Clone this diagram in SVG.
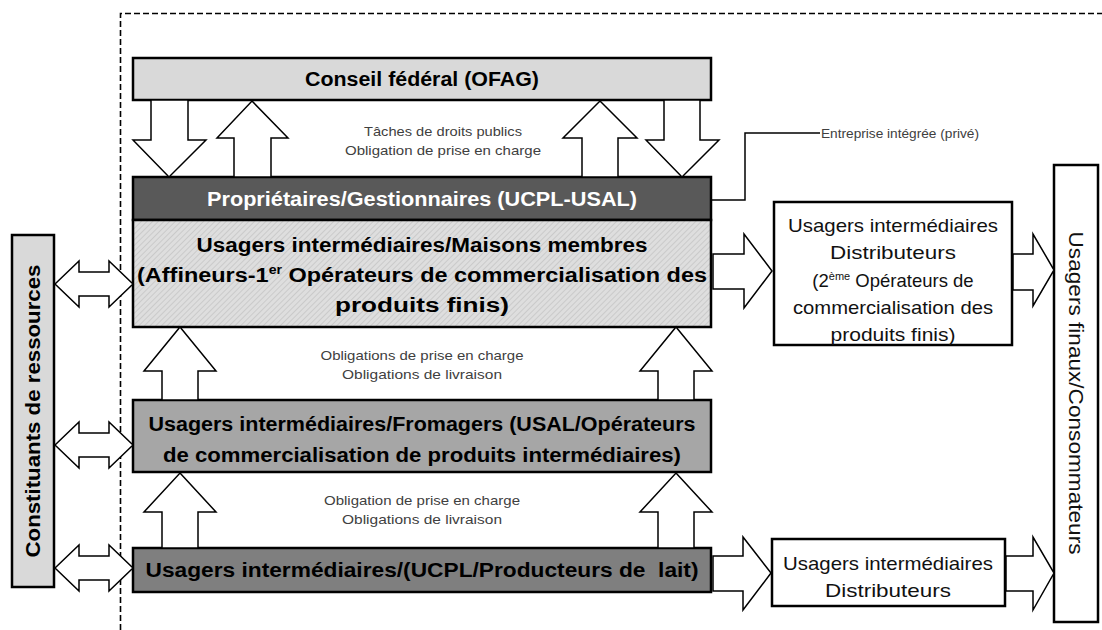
<svg xmlns="http://www.w3.org/2000/svg" width="1102" height="630" viewBox="0 0 1102 630">
<defs>
<pattern id="hatch" width="4" height="4" patternUnits="userSpaceOnUse" patternTransform="rotate(45)">
<rect width="4" height="4" fill="#dedede"/>
<line x1="0" y1="0" x2="0" y2="4" stroke="#bdbdbd" stroke-width="1.2"/>
</pattern>
<style>
.box{stroke:#000;stroke-width:2.5}
.arr{fill:#fff;stroke:#000;stroke-width:1.5;stroke-linejoin:miter}
.t{font-family:"Liberation Sans",Arial,sans-serif;text-anchor:middle}
.b{font-weight:bold;font-size:20px}
.s{font-size:13.5px;fill:#404040}
.m{font-size:18.5px;fill:#111}
</style>
</defs>
<rect width="1102" height="630" fill="#fff"/>
<path d="M120.5,630 V13.5 H1102" fill="none" stroke="#000" stroke-width="1.6" stroke-dasharray="6,3"/>

<g id="conseil">
<rect class="box" x="133" y="58" width="578" height="42" fill="#d9d9d9"/>
<text class="t b" x="422" y="86" textLength="234" lengthAdjust="spacingAndGlyphs">Conseil fédéral (OFAG)</text>
</g>

<g id="proprietaires">
<rect class="box" x="133" y="177" width="578" height="43" fill="#595959"/>
<text class="t b" x="422" y="206" fill="#fff" textLength="430" lengthAdjust="spacingAndGlyphs">Propriétaires/Gestionnaires (UCPL-USAL)</text>
</g>

<g id="maisons">
<rect class="box" x="133" y="220" width="578" height="107" fill="url(#hatch)"/>
<text class="t b" x="422" y="252" font-size="21" textLength="451" lengthAdjust="spacingAndGlyphs">Usagers intermédiaires/Maisons membres</text>
<text class="t b" x="422" y="282" font-size="21" textLength="570" lengthAdjust="spacingAndGlyphs">(Affineurs-1<tspan font-size="12" dy="-8">er</tspan><tspan dy="8"> Opérateurs de commercialisation des</tspan></text>
<text class="t b" x="422" y="312" font-size="21" textLength="174" lengthAdjust="spacingAndGlyphs">produits finis)</text>
</g>

<g id="fromagers">
<rect class="box" x="133" y="400" width="578" height="72" fill="#a6a6a6"/>
<text class="t b" x="422" y="431" font-size="21" textLength="547" lengthAdjust="spacingAndGlyphs">Usagers intermédiaires/Fromagers (USAL/Opérateurs</text>
<text class="t b" x="422" y="462" font-size="21" textLength="518" lengthAdjust="spacingAndGlyphs">de commercialisation de produits intermédiaires)</text>
</g>

<g id="producteurs">
<rect class="box" x="133" y="548" width="578" height="44" fill="#7f7f7f"/>
<text class="t b" x="422" y="577" font-size="21" xml:space="preserve" textLength="553" lengthAdjust="spacingAndGlyphs">Usagers intermédiaires/(UCPL/Producteurs de  lait)</text>
</g>

<g id="distributeurs1">
<rect class="box" x="774" y="202" width="238" height="143" fill="#fff" stroke-width="2"/>
<text class="t m" x="893" y="232" textLength="210" lengthAdjust="spacingAndGlyphs">Usagers intermédiaires</text>
<text class="t m" x="893" y="259" textLength="126" lengthAdjust="spacingAndGlyphs">Distributeurs</text>
<text class="t m" x="893" y="287">(2<tspan font-size="11" dy="-7">ème</tspan><tspan dy="7"> Opérateurs de</tspan></text>
<text class="t m" x="893" y="314" textLength="200" lengthAdjust="spacingAndGlyphs">commercialisation des</text>
<text class="t m" x="893" y="341" textLength="125" lengthAdjust="spacingAndGlyphs">produits finis)</text>
</g>

<g id="distributeurs2">
<rect class="box" x="772" y="539" width="233" height="67" fill="#fff" stroke-width="2"/>
<text class="t m" x="888" y="570" textLength="210" lengthAdjust="spacingAndGlyphs">Usagers intermédiaires</text>
<text class="t m" x="888" y="597" textLength="126" lengthAdjust="spacingAndGlyphs">Distributeurs</text>
</g>

<g id="consommateurs">
<rect class="box" x="1054" y="165" width="44" height="457" fill="#fff" stroke-width="2"/>
<text class="t" font-size="20" fill="#111" transform="translate(1069,393) rotate(90)" textLength="323" lengthAdjust="spacingAndGlyphs">Usagers finaux/Consommateurs</text>
</g>

<g id="constituants">
<rect class="box" x="12" y="235" width="42" height="352" fill="#d9d9d9" stroke-width="2"/>
<text class="t b" font-size="21" transform="translate(40,411) rotate(-90)" textLength="293" lengthAdjust="spacingAndGlyphs">Constituants de ressources</text>
</g>

<g id="labels">
<text class="t s" x="443" y="136" textLength="158" lengthAdjust="spacingAndGlyphs">Tâches de droits publics</text>
<text class="t s" x="443" y="155" textLength="196" lengthAdjust="spacingAndGlyphs">Obligation de prise en charge</text>
<text class="t s" x="422" y="360" textLength="203" lengthAdjust="spacingAndGlyphs">Obligations de prise en charge</text>
<text class="t s" x="422" y="379" textLength="160" lengthAdjust="spacingAndGlyphs">Obligations de livraison</text>
<text class="t s" x="422" y="505" textLength="196" lengthAdjust="spacingAndGlyphs">Obligation de prise en charge</text>
<text class="t s" x="422" y="524" textLength="160" lengthAdjust="spacingAndGlyphs">Obligations de livraison</text>
<text class="s" x="821" y="138" font-family="Liberation Sans, Arial, sans-serif" textLength="158" lengthAdjust="spacingAndGlyphs">Entreprise intégrée (privé)</text>
</g>

<g id="connectors">
<path d="M711,200 H745 V133 H820" fill="none" stroke="#000" stroke-width="1.5"/>
<polygon class="arr" points="151,100 188,100 188,140 206,140 169,177 133,140 151,140"/>
<polygon class="arr" points="252,101 288,138 271,138 271,177 234,177 234,138 217,138"/>
<polygon class="arr" points="600,101 637,138 618,138 618,177 582,177 582,138 563,138"/>
<polygon class="arr" points="664,100 700,100 700,140 719,140 682,177 646,140 664,140"/>
<polygon class="arr" points="180,327 216,371 198,371 198,400 162,400 162,371 144,371"/>
<polygon class="arr" points="676,327 712,371 694,371 694,400 658,400 658,371 640,371"/>
<polygon class="arr" points="180,473 216,512 198,512 198,548 162,548 162,512 144,512"/>
<polygon class="arr" points="676,473 712,512 694,512 694,548 658,548 658,512 640,512"/>
<polygon class="arr" points="713,254 744,254 744,234 772,271 744,308 744,289 713,289"/>
<polygon class="arr" points="1013,254 1033,254 1033,234 1054,270 1033,306 1033,290 1013,290"/>
<polygon class="arr" points="713,556 743,556 743,537 771,573 743,610 743,591 713,591"/>
<polygon class="arr" points="1006,556 1033,556 1033,537 1054,573 1033,610 1033,591 1006,591"/>
<polygon class="arr" points="55,284 79,261 79,272 109,272 109,261 133,284 109,307 109,296 79,296 79,307"/>
<polygon class="arr" points="55,445 79,422 79,433 109,433 109,422 133,445 109,468 109,457 79,457 79,468"/>
<polygon class="arr" points="55,568 79,545 79,556 109,556 109,545 133,568 109,591 109,580 79,580 79,591"/>
</g>
</svg>
